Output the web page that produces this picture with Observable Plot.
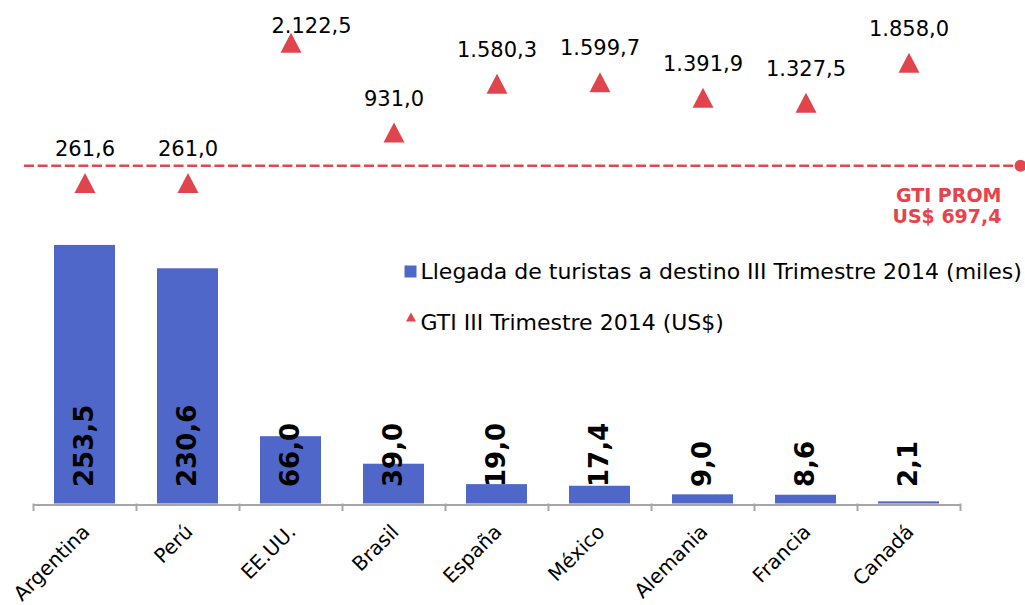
<!DOCTYPE html>
<html><head><meta charset="utf-8">
<script src="https://cdn.jsdelivr.net/npm/d3@7"></script>
<script src="https://cdn.jsdelivr.net/npm/@observablehq/plot@0.6"></script>
<style>html,body{margin:0;padding:0;background:#fff}svg{display:block}</style>
</head><body><div id="chart"></div>
<script>
// ---- data ----
const countries = ["Argentina","Perú","EE.UU.","Brasil","España","México","Alemania","Francia","Canadá"];
const arrivals  = [253.5, 230.6, 66.0, 39.0, 19.0, 17.4, 9.0, 8.6, 2.1];      // miles
const gti       = [261.6, 261.0, 2122.5, 931.0, 1580.3, 1599.7, 1391.9, 1327.5, 1858.0]; // US$
const gtiAvg    = 697.4;
const legendLabels = ["Llegada de turistas a destino III Trimestre 2014 (miles)", "GTI III Trimestre 2014 (US$)"];
const avgLabel = ["GTI PROM", "US$ 697,4"];

// ---- formatting (es) ----
const es = d3.formatLocale({decimal: ",", thousands: ".", grouping: [3], currency: ["US$ ", ""]});
const fmt = es.format(",.1f");

// ---- scales: primary (arrivals) and secondary (GTI) axes sharing the plot area ----
const primaryDomain = [0, 480];
const secondaryDomain = [-4000, 2500];
const yRange = [503.5, 13.9];
const yPx = d3.scaleLinear(primaryDomain, yRange);
const gtiToPrimary = d3.scaleLinear(secondaryDomain, primaryDomain);
// level at which the source draws its (dashed) average line
const avgLineLevel = gtiToPrimary(490);

const table = countries.map((c, i) => ({country: c, arrivals: arrivals[i], gti: gti[i]}));
const W = 1025, H = 605, mL = 33, mR = 65;
const xBand = d3.scaleBand(countries, [mL, W - mR]).paddingInner(0.41).paddingOuter(0.205);
const step = xBand.step();

const blue = "#4f67c9", red = "#e1444c", grey = "#a6a6a6";
const tri = (w, h) => ({draw(ctx) { ctx.moveTo(0, -h / 2); ctx.lineTo(w / 2, h / 2); ctx.lineTo(-w / 2, h / 2); ctx.closePath(); }});
const sq = (s) => ({draw(ctx) { ctx.rect(-s / 2, -s / 2, s, s); }});

const labelGap = 27, labelTop = 32;
const labelPx = d => yPx(gtiToPrimary(d.gti)) - labelGap;
const normal = table.filter(d => labelPx(d) >= labelTop);
const clamped = table.filter(d => labelPx(d) < labelTop);

const chart = Plot.plot({
  width: W, height: H,
  marginLeft: mL, marginRight: mR, marginTop: 0, marginBottom: 0,
  style: {fontFamily: "DejaVu Sans, Verdana, sans-serif", background: "white", overflow: "visible"},
  x: {type: "band", domain: countries, range: [mL, W - mR], paddingInner: 0.41, paddingOuter: 0.205, axis: null},
  y: {domain: primaryDomain, range: yRange, axis: null},
  marks: [
    // bars
    Plot.barY(table, {x: "country", y: "arrivals", fill: blue}),
    // category axis
    Plot.ruleY([0], {stroke: grey, strokeWidth: 2, dy: 1}),
    Plot.ruleX(countries, {x: d => d, dx: -step / 2, y1: 0, y2: yPx.invert(yPx(0) + 7.5), stroke: grey, strokeWidth: 2}),
    Plot.ruleX(countries.slice(-1), {x: d => d, dx: step / 2, y1: 0, y2: yPx.invert(yPx(0) + 7.5), stroke: grey, strokeWidth: 2}),
    Plot.text(countries, {x: d => d, y: 0, text: d => d, rotate: -45, textAnchor: "end", lineAnchor: "bottom", dx: 6, dy: 29, fontSize: 20, fill: "#000"}),
    // bar value labels
    Plot.text(table, {x: "country", y: 0, text: d => fmt(d.arrivals), rotate: -90, textAnchor: "start", lineAnchor: "middle", dy: -17, fontSize: 26, fontWeight: "bold", fill: "#000"}),
    // average line
    Plot.ruleY([avgLineLevel], {stroke: "#e2474f", strokeWidth: 2.6, strokeDasharray: "10,3.6", insetLeft: -9, insetRight: -60}),
    Plot.dot([avgLineLevel], {y: d => d, frameAnchor: "right", dx: 60, r: 6, fill: "#e2474f", stroke: "none"}),
    Plot.text([avgLabel[0]], {y: avgLineLevel, frameAnchor: "right", text: d => d, textAnchor: "end", lineAnchor: "bottom", dx: 41, dy: 36, fontSize: 19, fontWeight: "bold", fill: "#e8434b"}),
    Plot.text([avgLabel[1]], {y: avgLineLevel, frameAnchor: "right", text: d => d, textAnchor: "end", lineAnchor: "bottom", dx: 41, dy: 57, fontSize: 19, fontWeight: "bold", fill: "#e8434b"}),
    // GTI triangles (secondary axis)
    Plot.dot(table, {x: "country", y: d => gtiToPrimary(d.gti), symbol: tri(21, 20), fill: red, stroke: "none"}),
    Plot.text(normal, {x: "country", y: d => gtiToPrimary(d.gti), text: d => fmt(d.gti), lineAnchor: "bottom", dy: -labelGap, fontSize: 21, fill: "#000"}),
    Plot.text(clamped, {x: "country", y: () => yPx.invert(labelTop), text: d => fmt(d.gti), lineAnchor: "bottom", dx: 20.5, fontSize: 21, fill: "#000"}),
    // legend
    Plot.dot([legendLabels[0]], {frameAnchor: "top-left", dx: 410 - mL, dy: 271, symbol: sq(12), fill: blue, stroke: "none"}),
    Plot.text([legendLabels[0]], {frameAnchor: "top-left", text: d => d, textAnchor: "start", lineAnchor: "bottom", dx: 420 - mL, dy: 278, fontSize: 22, fill: "#000"}),
    Plot.dot([legendLabels[1]], {frameAnchor: "top-left", dx: 410.5 - mL, dy: 316.5, symbol: tri(10, 9), fill: red, stroke: "none"}),
    Plot.text([legendLabels[1]], {frameAnchor: "top-left", text: d => d, textAnchor: "start", lineAnchor: "bottom", dx: 420 - mL, dy: 329, fontSize: 22, fill: "#000"})
  ]
});
document.getElementById("chart").appendChild(chart);
</script>
</body></html>
